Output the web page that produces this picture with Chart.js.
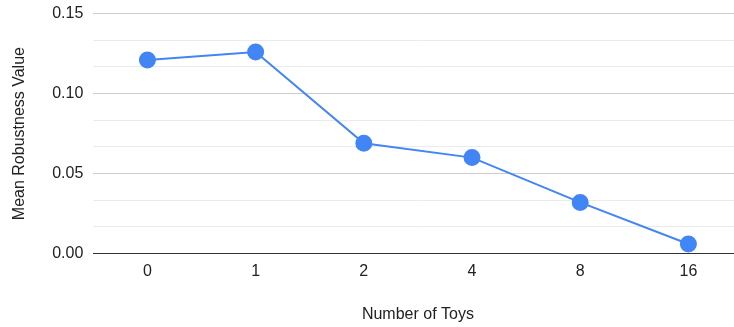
<!DOCTYPE html>
<html>
<head>
<meta charset="utf-8">
<script src="https://cdn.jsdelivr.net/npm/chart.js@4"></script>
<style>
  html, body { margin: 0; padding: 0; background: #fff; overflow: hidden; }
  #wrap { width: 734px; height: 327px; overflow: hidden; }
  #chart { display: block; margin-top: -6px; }
</style>
</head>
<body>
<div id="wrap"><canvas id="chart" width="752" height="333"></canvas></div>
<script>
const toyCounts = ['0', '1', '2', '4', '8', '16'];
const robustness = [0.121, 0.126, 0.069, 0.060, 0.032, 0.006];
const yLabels = ['0.00', '0.05', '0.10', '0.15'];

Chart.defaults.font.family = '"Liberation Sans", Arial, sans-serif';
Chart.defaults.font.size = 16;
Chart.defaults.color = '#222';

const ctx = document.getElementById('chart').getContext('2d');
new Chart(ctx, {
    type: 'line',
    data: {
        labels: toyCounts,
        datasets: [{
            label: 'Mean Robustness Value',
            data: robustness,
            borderColor: '#4285f4',
            backgroundColor: '#4285f4',
            borderWidth: 2,
            pointRadius: 7.5,
            pointHoverRadius: 7.5,
            tension: 0,
        }],
    },
    options: {
        responsive: false,
        animation: false,
        layout: { padding: { top: 0, left: 10, right: 0, bottom: 3 } },
        plugins: {
            legend: { display: false },
            tooltip: { enabled: false },
        },
        scales: {
            x: {
                offset: true,
                grid: { display: false, drawTicks: false },
                border: { display: true, color: '#333', width: 1 },
                ticks: { padding: 8, color: '#222' },
                title: {
                    display: true,
                    text: 'Number of Toys',
                    color: '#222',
                    padding: { top: 16, bottom: 0 },
                },
            },
            y: {
                min: 0,
                max: 0.15,
                border: { display: false },
                grid: {
                    drawTicks: false,
                    color: (c) => c.index === 0 ? '#333' : (c.index % 3 === 0 ? '#cccccc' : '#ebebeb'),
                    lineWidth: 1,
                },
                ticks: {
                    stepSize: 0.05 / 3,
                    padding: 10,
                    color: '#222',
                    autoSkip: false,
                    callback: function (value, index) {
                        return index % 3 === 0 ? yLabels[index / 3] : '';
                    },
                },
                title: {
                    display: true,
                    text: 'Mean Robustness Value',
                    color: '#222',
                    padding: { top: 0, bottom: 13 },
                },
            },
        },
    },
});
</script>
</body>
</html>
